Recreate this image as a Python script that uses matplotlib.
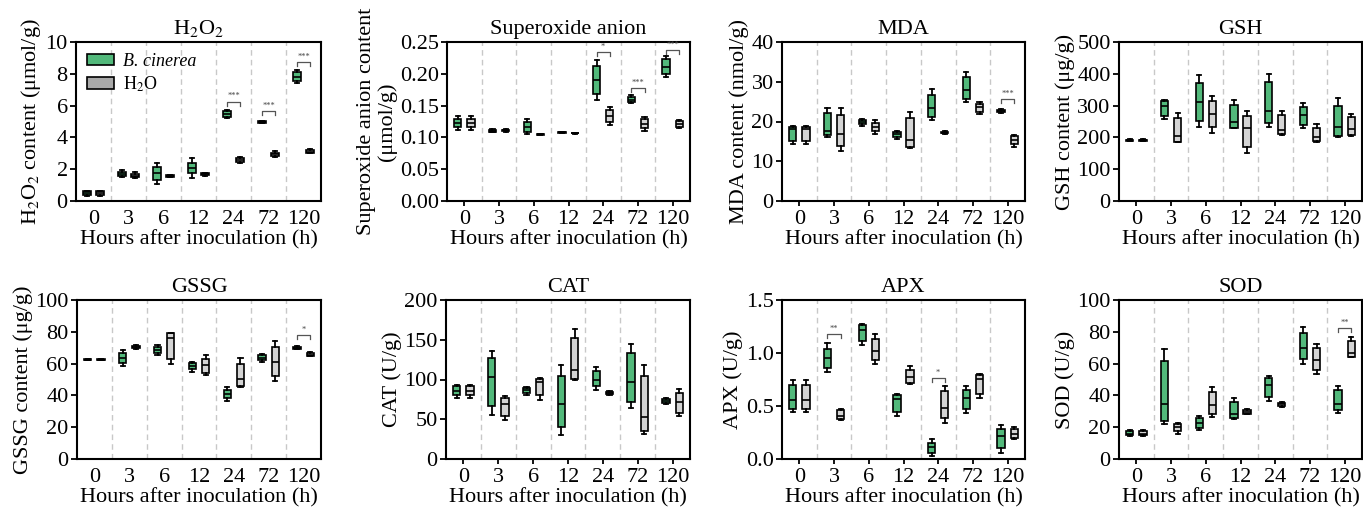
import matplotlib
matplotlib.use("Agg")
import matplotlib.pyplot as plt
from matplotlib.patches import Patch
import numpy as np

plt.rcParams['font.family'] = ['Liberation Serif', 'DejaVu Serif']
plt.rcParams['mathtext.fontset'] = 'stix'

hours = ['0', '3', '6', '12', '24', '72', '120']

# stats per time point: [min, q1, median, q3, max]
h2o2_bc = [[0.30, 0.35, 0.50, 0.60, 0.65], [1.52, 1.60, 1.72, 1.85, 1.92], [1.10, 1.32, 1.75, 2.16, 2.40],
           [1.43, 1.74, 2.05, 2.37, 2.69], [5.20, 5.30, 5.50, 5.65, 5.75], [4.90, 4.93, 4.98, 5.03, 5.05],
           [7.40, 7.55, 7.80, 8.10, 8.25]]
h2o2_h2o = [[0.30, 0.35, 0.50, 0.60, 0.65], [1.45, 1.52, 1.60, 1.72, 1.80], [1.50, 1.52, 1.58, 1.63, 1.65],
            [1.60, 1.62, 1.68, 1.73, 1.75], [2.40, 2.48, 2.60, 2.70, 2.75], [2.75, 2.82, 2.95, 3.05, 3.15],
            [3.00, 3.05, 3.10, 3.20, 3.25]]
h2o2_sig = [(4, 6.25, '***'), (5, 5.67, '***'), (6, 8.74, '***')]

sup_bc = [[0.112, 0.116, 0.122, 0.129, 0.134], [0.108, 0.109, 0.110, 0.112, 0.113], [0.105, 0.109, 0.117, 0.124, 0.129],
          [0.107, 0.1075, 0.108, 0.1085, 0.109], [0.159, 0.168, 0.191, 0.212, 0.221], [0.154, 0.156, 0.159, 0.163, 0.166],
          [0.195, 0.200, 0.211, 0.223, 0.228]]
sup_h2o = [[0.112, 0.116, 0.122, 0.129, 0.134], [0.109, 0.110, 0.111, 0.112, 0.113], [0.104, 0.1045, 0.105, 0.1055, 0.106],
           [0.106, 0.1063, 0.1065, 0.1068, 0.107], [0.120, 0.125, 0.134, 0.143, 0.148], [0.110, 0.114, 0.121, 0.129, 0.132],
           [0.115, 0.117, 0.121, 0.126, 0.128]]
sup_sig = [(4, 0.234, '*'), (5, 0.178, '***'), (6, 0.237, '***')]

mda_bc = [[14.4, 15.2, 18.1, 18.7, 18.9], [16.2, 16.6, 17.7, 22.1, 23.5], [18.9, 19.3, 19.8, 20.4, 20.7],
          [15.5, 16.2, 16.8, 17.4, 17.7], [20.3, 21.1, 23.3, 26.6, 28.2], [25.0, 25.6, 27.8, 31.2, 32.4],
          [22.2, 22.4, 22.7, 23.0, 23.2]]
mda_h2o = [[14.4, 15.2, 18.1, 18.7, 18.9], [12.7, 13.9, 16.9, 21.7, 23.3], [16.9, 17.5, 18.7, 19.6, 20.3],
           [13.4, 13.7, 15.4, 20.8, 22.5], [16.8, 17.0, 17.2, 17.4, 17.6], [21.8, 22.3, 23.6, 24.5, 25.0],
           [13.7, 14.4, 15.4, 16.4, 16.7]]
mda_sig = [(6, 25.6, '***')]

gsh_bc = [[188, 189, 191, 193, 194], [258, 268, 299, 313, 318], [233, 253, 310, 372, 396],
          [229, 231, 248, 301, 319], [233, 244, 284, 374, 400], [229, 240, 270, 295, 307],
          [202, 204, 233, 299, 324]]
gsh_h2o = [[188, 189, 191, 193, 194], [184, 187, 205, 260, 278], [213, 232, 273, 313, 330],
           [150, 170, 231, 267, 283], [207, 210, 222, 269, 284], [184, 188, 200, 230, 241],
           [205, 208, 227, 264, 275]]
gsh_sig = []

gssg_bc = [[62.2, 62.2, 62.5, 62.8, 62.8], [58.6, 60.3, 63.4, 66.5, 68.4], [65.3, 66.5, 68.4, 70.3, 71.5],
           [55.0, 56.5, 58.2, 60.3, 60.7], [36.6, 38.3, 40.8, 43.3, 45.4], [61.3, 62.3, 63.8, 65.5, 65.9],
           [69.0, 69.4, 70.0, 70.6, 71.0]]
gssg_h2o = [[62.2, 62.2, 62.5, 62.8, 62.8], [69.0, 69.5, 70.2, 70.9, 71.5], [59.6, 62.8, 75.9, 79.1, 79.5],
            [52.9, 54.4, 59.0, 63.2, 65.3], [45.4, 46.0, 50.2, 60.0, 63.4], [49.2, 52.3, 60.7, 70.5, 74.3],
            [64.5, 65.0, 65.5, 66.5, 67.0]]
gssg_sig = [(6, 77.8, '*')]

cat_bc = [[77.1, 80.0, 86.0, 91.3, 93.3], [55.8, 67.0, 103.0, 127.0, 135.4], [80.0, 83.0, 87.0, 89.6, 91.0],
          [30.0, 40.4, 68.8, 105.0, 118.0], [87.0, 91.3, 100.0, 110.4, 115.4], [64.0, 71.7, 96.7, 133.0, 145.0],
          [68.8, 70.4, 73.0, 75.4, 76.7]]
cat_h2o = [[77.1, 80.0, 86.0, 91.3, 93.3], [48.8, 54.0, 68.8, 77.0, 78.8], [74.6, 81.0, 96.7, 100.8, 101.7],
           [99.6, 100.4, 112.5, 152.0, 163.8], [80.0, 81.5, 83.0, 84.5, 86.0], [32.0, 35.0, 53.0, 104.0, 118.0],
           [53.8, 58.0, 71.3, 83.0, 88.0]]
cat_sig = []

apx_bc = [[0.444, 0.475, 0.56, 0.70, 0.75], [0.82, 0.856, 0.953, 1.04, 1.09], [1.08, 1.115, 1.22, 1.26, 1.27],
          [0.406, 0.444, 0.569, 0.60, 0.61], [0.028, 0.053, 0.11, 0.153, 0.19], [0.43, 0.47, 0.578, 0.65, 0.684],
          [0.06, 0.10, 0.216, 0.28, 0.32]]
apx_h2o = [[0.444, 0.475, 0.56, 0.70, 0.75], [0.372, 0.38, 0.406, 0.46, 0.475], [0.90, 0.93, 1.016, 1.13, 1.18],
           [0.71, 0.72, 0.772, 0.844, 0.875], [0.344, 0.39, 0.484, 0.64, 0.69], [0.575, 0.616, 0.756, 0.79, 0.80],
           [0.19, 0.20, 0.24, 0.28, 0.303]]
apx_sig = [(1, 1.18, '**'), (4, 0.766, '*')]

sod_bc = [[14.4, 14.8, 16.0, 17.7, 18.5], [21.9, 24.0, 34.8, 61.5, 69.2], [18.1, 19.8, 22.9, 26.0, 27.0],
          [25.4, 26.0, 28.1, 35.8, 38.5], [36.5, 39.0, 46.7, 50.8, 52.5], [59.8, 62.9, 69.6, 79.2, 83.3],
          [29.0, 30.6, 34.8, 43.1, 45.8]]
sod_h2o = [[14.4, 14.8, 16.0, 17.7, 18.5], [16.0, 17.5, 20.2, 21.9, 22.7], [26.5, 28.3, 33.8, 42.0, 45.2],
           [28.0, 28.6, 29.8, 30.8, 31.5], [32.5, 33.3, 34.3, 35.2, 36.0], [53.5, 56.0, 62.5, 69.5, 72.5],
           [64.0, 64.4, 66.5, 74.0, 76.9]]
sod_sig = [(6, 82.3, '**')]

panels = [
    dict(title='H$_2$O$_2$', ylabel='H$_2$O$_2$ content (μmol/g)', bc=h2o2_bc, h2o=h2o2_h2o, sig=h2o2_sig,
         ylim=(0, 10), yticks=np.arange(0, 10.1, 2), fmt='{:.0f}', xtick=False, legend=True),
    dict(title='Superoxide anion', ylabel='Superoxide anion content\n(μmol/g)', bc=sup_bc, h2o=sup_h2o, sig=sup_sig,
         ylim=(0, 0.25), yticks=np.arange(0, 0.251, 0.05), fmt='{:.2f}', xtick=True, legend=False),
    dict(title='MDA', ylabel='MDA content (nmol/g)', bc=mda_bc, h2o=mda_h2o, sig=mda_sig,
         ylim=(0, 40), yticks=np.arange(0, 41, 10), fmt='{:.0f}', xtick=True, legend=False),
    dict(title='GSH', ylabel='GSH content (μg/g)', bc=gsh_bc, h2o=gsh_h2o, sig=gsh_sig,
         ylim=(0, 500), yticks=np.arange(0, 501, 100), fmt='{:.0f}', xtick=True, legend=False),
    dict(title='GSSG', ylabel='GSSG content (μg/g)', bc=gssg_bc, h2o=gssg_h2o, sig=gssg_sig,
         ylim=(0, 100), yticks=np.arange(0, 101, 20), fmt='{:.0f}', xtick=False, legend=False),
    dict(title='CAT', ylabel='CAT (U/g)', bc=cat_bc, h2o=cat_h2o, sig=cat_sig,
         ylim=(0, 200), yticks=np.arange(0, 201, 50), fmt='{:.0f}', xtick=True, legend=False),
    dict(title='APX', ylabel='APX (U/g)', bc=apx_bc, h2o=apx_h2o, sig=apx_sig,
         ylim=(0, 1.5), yticks=np.arange(0, 1.51, 0.5), fmt='{:.1f}', xtick=True, legend=False),
    dict(title='SOD', ylabel='SOD (U/g)', bc=sod_bc, h2o=sod_h2o, sig=sod_sig,
         ylim=(0, 100), yticks=np.arange(0, 101, 20), fmt='{:.0f}', xtick=True, legend=False),
]

GREEN = '#52b97b'
GRAY = '#d4d4d4'
W, H = 1363, 512
fig = plt.figure(figsize=(W / 100, H / 100), dpi=100)

lefts_px = [76, 447, 782, 1119, 77, 446, 782, 1119]
widths_px = [245, 243, 243, 243, 244, 244, 243, 243]
tops_px = [42] * 4 + [300] * 4
ax_h_px = 159
FS = 16

def stats_list(rows, labels):
    out = []
    for r, lab in zip(rows, labels):
        out.append(dict(whislo=r[0], q1=r[1], med=r[2], q3=r[3], whishi=r[4], label=lab, fliers=[]))
    return out

for i, p in enumerate(panels):
    l = lefts_px[i] / W
    b = 1 - (tops_px[i] + ax_h_px) / H
    ax = fig.add_axes([l, b, widths_px[i] / W, ax_h_px / H])
    x = np.arange(len(hours))
    off = 0.19
    common = dict(widths=0.21, patch_artist=True, showfliers=False, capwidths=0.12,
                  medianprops=dict(color='black', lw=1.2),
                  whiskerprops=dict(color='black', lw=1.3),
                  capprops=dict(color='black', lw=1.3))
    ax.bxp(stats_list(p['bc'], hours), positions=x - off,
           boxprops=dict(facecolor=GREEN, edgecolor='black', lw=1.2), **common)
    ax.bxp(stats_list(p['h2o'], hours), positions=x + off,
           boxprops=dict(facecolor=GRAY, edgecolor='black', lw=1.2), **common)
    for s in x[:-1]:
        ax.axvline(s + 0.5, color='#c8c8c8', lw=1.0, ls=(0, (4, 3)), zorder=0)
    yr = p['ylim'][1] - p['ylim'][0]
    for (gi, yv, txt) in p['sig']:
        ax.plot([gi - off, gi - off, gi + off, gi + off], [yv - 0.025 * yr, yv, yv, yv - 0.025 * yr],
                color='#555555', lw=0.9, clip_on=False)
        ax.text(gi, yv + 0.008 * yr, txt, ha='center', va='bottom', fontsize=6, color='#444444')
    ax.set_xlim(-0.5, 6.5)
    ax.set_ylim(*p['ylim'])
    ax.set_xticks(x)
    ax.set_xticklabels(hours, fontsize=FS)
    ax.set_yticks(p['yticks'])
    ax.set_yticklabels([p['fmt'].format(v) for v in p['yticks']], fontsize=FS)
    ax.tick_params(axis='y', direction='out', length=4, width=1.3, pad=2)
    xlen = 3.5 if p['xtick'] else 0
    ax.tick_params(axis='x', direction='out', length=xlen, width=1.3, pad=6.5 - xlen)
    for sp in ax.spines.values():
        sp.set_linewidth(1.5)
    ax.set_title(p['title'], fontsize=FS, pad=6)
    ax.set_xlabel('Hours after inoculation (h)', fontsize=FS, labelpad=1)
    ax.set_ylabel(p['ylabel'], fontsize=FS, labelpad=2, linespacing=1.05)
    if p['legend']:
        handles = [Patch(facecolor=GREEN, edgecolor='black', lw=1.2, label='B. cinerea'),
                   Patch(facecolor='#a9a9a9', edgecolor='black', lw=1.2, label='H$_2$O')]
        leg = ax.legend(handles=handles, loc='upper left', frameon=False, fontsize=13,
                        handlelength=1.5, handleheight=0.6, borderaxespad=0.2, labelspacing=0.25,
                        handletextpad=0.5)
        leg.get_texts()[0].set_style('italic')

fig.savefig('out.png', dpi=100)
